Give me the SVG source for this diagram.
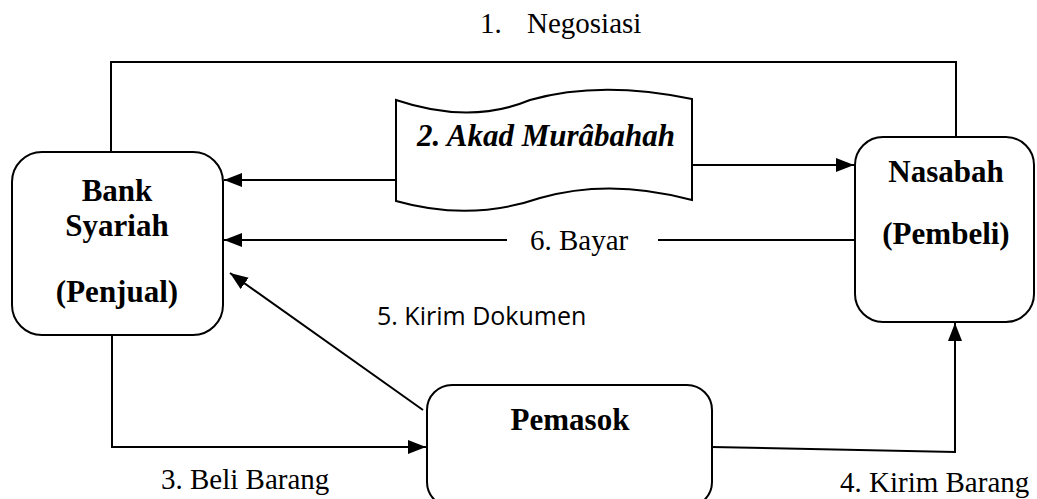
<svg xmlns="http://www.w3.org/2000/svg" width="1037" height="499" viewBox="0 0 1037 499">
<style>
.box{fill:#fff;stroke:#000;stroke-width:2}
.ln{fill:none;stroke:#000;stroke-width:2}
.arr{marker-end:url(#ah)}
.t{font-family:"Liberation Serif","Times New Roman",serif;font-size:29px;fill:#000}
.b{font-family:"Liberation Serif","Times New Roman",serif;font-size:31px;font-weight:bold;fill:#000}
.s{font-family:"Open Sans","Liberation Sans",sans-serif;font-size:25px;fill:#000}
</style>
<defs>
<marker id="ah" markerUnits="userSpaceOnUse" markerWidth="20" markerHeight="16" refX="18" refY="7" orient="auto">
<path d="M0,0 L18,7 L0,14 Z" fill="#000"/>
</marker>
</defs>
<rect width="1037" height="499" fill="#fff"/>
<g id="connectors">
<path class="ln" d="M111,152 V62 H956 V137"/>
<path class="ln arr" d="M396,180 H224"/>
<path class="ln arr" d="M692,165 H854"/>
<path class="ln" d="M855,240 H658"/>
<path class="ln arr" d="M507,240 H224"/>
<path class="ln arr" d="M423,410 L230,273"/>
<path class="ln arr" d="M112,335 V447 H426"/>
<path class="ln arr" d="M712,447 L955,452 V323"/>
<text class="t" x="480" y="33">1.</text>
<text class="t" x="527" y="33">Negosiasi</text>
<text class="t" x="530" y="250">6. Bayar</text>
<text class="s" x="377" y="325">5. Kirim Dokumen</text>
<text class="t" x="161" y="489">3. Beli Barang</text>
<text class="t" x="840" y="492">4. Kirim Barang</text>
</g>
<g id="akad">
<path class="box" d="M396,100 Q470,125 530,100 Q600,80 692,99 L692,200 Q610,178 540,198 Q470,222 396,201 Z"/>
<text class="b" x="546" y="146" text-anchor="middle" font-style="italic" font-size="26.5">2. Akad Murâbahah</text>
</g>
<g id="bank">
<rect class="box" x="12" y="152" width="211" height="183" rx="30"/>
<text class="b" x="117" y="201" text-anchor="middle">Bank</text>
<text class="b" x="117" y="236" text-anchor="middle">Syariah</text>
<text class="b" x="117" y="302" text-anchor="middle">(Penjual)</text>
</g>
<g id="nasabah">
<rect class="box" x="855" y="137" width="179" height="185" rx="28"/>
<text class="b" x="946" y="182" text-anchor="middle">Nasabah</text>
<text class="b" x="946" y="244" text-anchor="middle">(Pembeli)</text>
</g>
<g id="pemasok">
<rect class="box" x="427" y="385" width="285" height="122" rx="25"/>
<text class="b" x="570" y="430" text-anchor="middle">Pemasok</text>
</g>
</svg>
